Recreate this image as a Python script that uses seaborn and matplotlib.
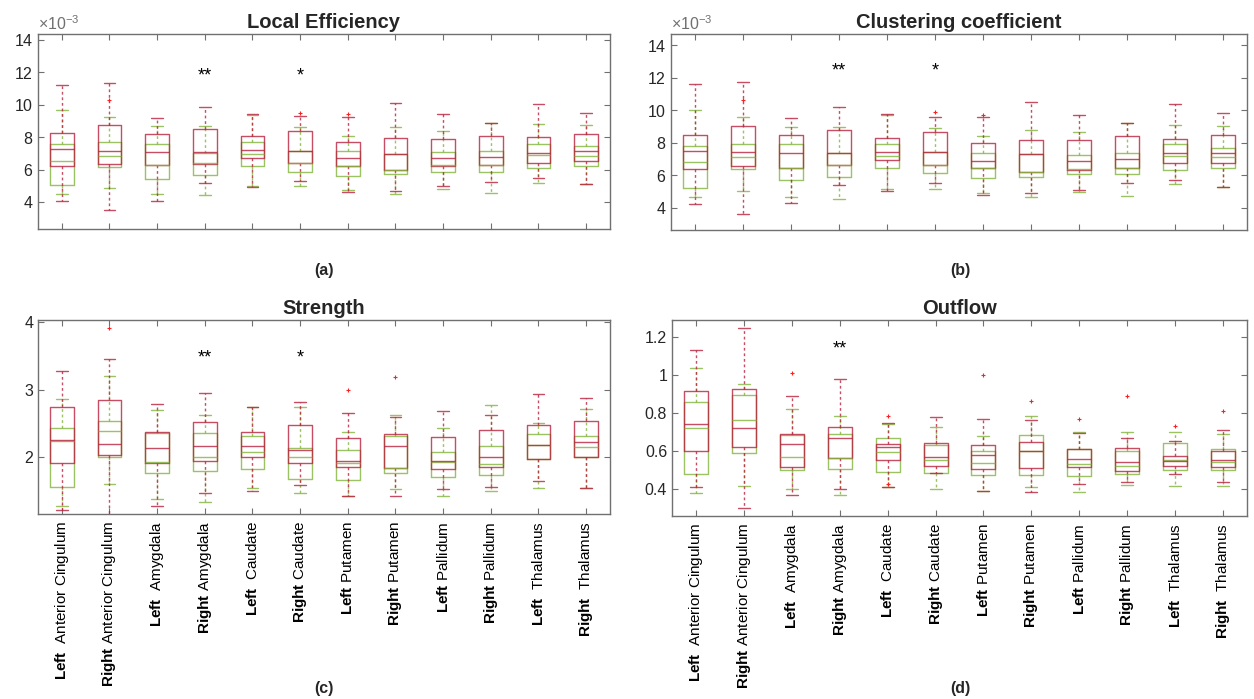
import pandas as pd
import matplotlib
matplotlib.use("Agg")
import matplotlib.pyplot as plt
import seaborn as sns
from matplotlib.ticker import ScalarFormatter, FuncFormatter


REGIONS = [
    "Left Anterior Cingulum", "Right Anterior Cingulum",
    "Left Amygdala", "Right Amygdala",
    "Left Caudate", "Right Caudate",
    "Left Putamen", "Right Putamen",
    "Left Pallidum", "Right Pallidum",
    "Left Thalamus", "Right Thalamus",
]

TICK_LABELS = [
    r"$\mathbf{Left}$  Anterior Cingulum", r"$\mathbf{Right}$ Anterior Cingulum",
    r"$\mathbf{Left}$  Amygdala", r"$\mathbf{Right}$ Amygdala",
    r"$\mathbf{Left}$  Caudate", r"$\mathbf{Right}$ Caudate",
    r"$\mathbf{Left}$ Putamen", r"$\mathbf{Right}$ Putamen",
    r"$\mathbf{Left}$ Pallidum", r"$\mathbf{Right}$ Pallidum",
    r"$\mathbf{Left}$  Thalamus", r"$\mathbf{Right}$  Thalamus",
]

# five-number summaries per region: [lower whisker, q1, median, q3, upper whisker]

# (a) local efficiency, x 1e-3
LE_RED = [
    [4.08, 6.20, 7.28, 8.25, 11.20], [3.50, 6.34, 7.12, 8.74, 11.35],
    [4.08, 6.26, 7.08, 8.20, 9.20], [5.17, 6.36, 7.06, 8.50, 9.85],
    [4.90, 6.70, 7.20, 8.05, 9.40], [5.27, 6.40, 7.12, 8.40, 9.30],
    [4.60, 6.20, 6.70, 7.68, 9.25], [4.70, 5.95, 6.98, 7.92, 10.14],
    [4.97, 6.20, 6.73, 7.88, 9.40], [5.23, 6.26, 6.77, 8.10, 8.87],
    [5.48, 6.40, 7.02, 7.98, 10.04], [5.10, 6.50, 7.12, 8.19, 9.48],
]
LE_GREEN = [
    [4.50, 5.05, 6.55, 7.60, 9.70], [4.84, 6.14, 6.85, 7.68, 9.24],
    [4.49, 5.44, 6.30, 7.60, 8.66], [4.41, 5.68, 6.40, 7.05, 8.66],
    [5.00, 6.20, 6.95, 7.70, 9.35], [4.97, 5.88, 6.40, 7.15, 8.60],
    [4.76, 5.62, 6.20, 7.12, 8.10], [4.50, 5.72, 6.00, 6.98, 8.60],
    [4.82, 5.85, 6.30, 7.06, 8.40], [4.55, 5.85, 6.30, 7.12, 8.87],
    [5.17, 6.07, 6.90, 7.60, 8.83], [5.10, 6.20, 6.85, 7.47, 8.76],
]
LE_OUT_REGION = ["Right Anterior Cingulum", "Right Caudate", "Left Putamen"]
LE_OUT_VALUE = [10.3, 9.5, 9.4]

# (b) clustering coefficient, x 1e-3
CC_RED = [
    [4.20, 6.39, 7.50, 8.49, 11.60], [3.60, 6.55, 7.40, 9.02, 11.75],
    [4.27, 6.45, 7.34, 8.50, 9.49], [5.39, 6.62, 7.34, 8.77, 10.20],
    [5.05, 6.93, 7.44, 8.26, 9.76], [5.50, 6.62, 7.40, 8.67, 9.55],
    [4.78, 6.42, 6.89, 7.95, 9.55], [4.88, 6.20, 7.28, 8.16, 10.50],
    [5.09, 6.32, 6.89, 8.16, 9.70], [5.50, 6.42, 6.99, 8.40, 9.18],
    [5.70, 6.73, 7.34, 8.20, 10.35], [5.25, 6.73, 7.38, 8.47, 9.80],
]
CC_GREEN = [
    [4.65, 5.20, 6.80, 7.82, 10.00], [5.05, 6.35, 7.10, 7.91, 9.55],
    [4.68, 5.70, 6.45, 7.91, 8.94], [4.53, 5.90, 6.60, 7.35, 8.98],
    [5.15, 6.42, 7.18, 7.90, 9.70], [5.15, 6.15, 6.62, 7.40, 8.92],
    [4.92, 5.80, 6.42, 7.38, 8.40], [4.64, 5.90, 6.20, 7.28, 8.80],
    [4.95, 6.10, 6.40, 7.24, 8.67], [4.74, 6.10, 6.42, 7.38, 9.18],
    [5.45, 6.32, 7.20, 7.90, 9.08], [5.25, 6.46, 7.10, 7.69, 9.04],
]
CC_OUT_REGION = ["Right Anterior Cingulum", "Right Caudate", "Left Putamen"]
CC_OUT_VALUE = [10.65, 9.9, 9.7]

# (c) strength
ST_RED = [
    [1.22, 1.91, 2.26, 2.75, 3.28], [1.10, 2.03, 2.19, 2.85, 3.45],
    [1.28, 1.92, 2.14, 2.38, 2.78], [1.47, 1.95, 2.17, 2.52, 2.95],
    [1.50, 2.00, 2.16, 2.38, 2.74], [1.59, 1.91, 2.11, 2.48, 2.81],
    [1.43, 1.85, 1.95, 2.28, 2.65], [1.43, 1.84, 2.16, 2.34, 2.59],
    [1.53, 1.82, 1.95, 2.30, 2.68], [1.56, 1.85, 2.01, 2.40, 2.62],
    [1.65, 1.97, 2.18, 2.48, 2.94], [1.55, 2.00, 2.22, 2.54, 2.87],
]
ST_GREEN = [
    [1.28, 1.56, 2.24, 2.43, 2.86], [1.61, 2.00, 2.39, 2.53, 3.20],
    [1.38, 1.77, 1.93, 2.36, 2.70], [1.34, 1.80, 2.00, 2.36, 2.63],
    [1.54, 1.82, 2.08, 2.32, 2.74], [1.47, 1.68, 2.00, 2.14, 2.75],
    [1.43, 1.66, 1.91, 2.10, 2.38], [1.53, 1.76, 1.84, 2.31, 2.63],
    [1.42, 1.70, 1.93, 2.07, 2.43], [1.50, 1.74, 1.90, 2.17, 2.77],
    [1.55, 1.97, 2.18, 2.35, 2.50], [1.55, 2.00, 2.15, 2.32, 2.72],
]
ST_OUT_REGION = ["Right Anterior Cingulum", "Left Putamen", "Right Putamen"]
ST_OUT_VALUE = [3.91, 3.0, 3.18]

# (d) outflow
OF_RED = [
    [0.410, 0.603, 0.742, 0.918, 1.133], [0.300, 0.621, 0.725, 0.928, 1.247],
    [0.370, 0.520, 0.637, 0.690, 0.890], [0.400, 0.563, 0.670, 0.730, 0.979],
    [0.414, 0.554, 0.620, 0.640, 0.747], [0.488, 0.523, 0.572, 0.642, 0.779],
    [0.393, 0.505, 0.580, 0.633, 0.770], [0.388, 0.514, 0.604, 0.651, 0.765],
    [0.430, 0.516, 0.558, 0.612, 0.695], [0.437, 0.498, 0.545, 0.616, 0.668],
    [0.480, 0.524, 0.549, 0.577, 0.656], [0.440, 0.520, 0.555, 0.600, 0.710],
]
OF_GREEN = [
    [0.380, 0.480, 0.725, 0.858, 1.040], [0.420, 0.593, 0.765, 0.896, 0.955],
    [0.400, 0.502, 0.572, 0.685, 0.823], [0.370, 0.508, 0.565, 0.690, 0.788],
    [0.410, 0.493, 0.595, 0.672, 0.744], [0.400, 0.484, 0.555, 0.635, 0.730],
    [0.393, 0.475, 0.540, 0.600, 0.680], [0.414, 0.475, 0.600, 0.686, 0.788],
    [0.387, 0.472, 0.535, 0.612, 0.700], [0.423, 0.480, 0.525, 0.600, 0.700],
    [0.417, 0.501, 0.555, 0.645, 0.700], [0.420, 0.500, 0.545, 0.610, 0.690],
]
OF_OUT_REGION = ["Left Amygdala", "Left Caudate", "Left Caudate", "Left Putamen",
                 "Right Putamen", "Left Pallidum", "Right Pallidum",
                 "Left Thalamus", "Right Thalamus"]
OF_OUT_VALUE = [1.01, 0.788, 0.43, 1.0, 0.865, 0.768, 0.893, 0.733, 0.81]

RED = "#b8203c"
GREEN = "#82b43c"
OUT_RED = "#ff2020"
AXIS_GRAY = "#707070"
TEXT_GRAY = "#262626"


def box_frame(red, green, scale):
    rows = []
    for grp, stats in (("Group B", green), ("Group A", red)):
        for region, five in zip(REGIONS, stats):
            for v in five:
                rows.append({"region": region, "group": grp, "value": v * scale})
    return pd.DataFrame(rows)


def draw_panel(ax, red, green, out_region, out_value, scale, title,
               ylim, yticks, stars, star_y, bottom_row):

    df = box_frame(red, green, scale)

    sns.boxplot(
        data=df, x="region", y="value", hue="group",
        order=REGIONS, hue_order=["Group B", "Group A"],
        palette={"Group A": RED, "Group B": GREEN},
        dodge=False, fill=False, width=0.5, whis=(0, 100),
        linewidth=1.0,
        whiskerprops=dict(linestyle=(0, (2, 2))),
        legend=False, ax=ax
    )

    for ln in ax.lines:
        ln.set_alpha(0.8)

    out_df = pd.DataFrame({
        "region": out_region,
        "value": [v * scale for v in out_value],
    })

    sns.stripplot(
        data=out_df, x="region", y="value", order=REGIONS,
        jitter=False, color=OUT_RED, marker="+", size=3.5,
        linewidth=0.8, legend=False, ax=ax
    )

    for region, mark in stars:
        ax.text(REGIONS.index(region), star_y * scale, mark,
                ha="center", va="center", fontsize=13, color="black")

    ax.set_xlim(-0.5, len(REGIONS) - 0.5)
    ax.set_ylim(ylim[0] * scale, ylim[1] * scale)
    ax.set_yticks([t * scale for t in yticks])
    ax.set_xlabel("")
    ax.set_ylabel("")
    ax.set_title(title, fontsize=14.5, fontweight="bold", pad=4)

    ax.tick_params(direction="in", top=True, right=True, length=4,
                   width=0.8, color=AXIS_GRAY, labelcolor=TEXT_GRAY,
                   labelsize=11.5)
    for sp in ax.spines.values():
        sp.set_visible(True)
        sp.set_color(AXIS_GRAY)
        sp.set_linewidth(1.0)

    ax.set_xticks(range(len(REGIONS)))
    if bottom_row:
        ax.set_xticklabels(TICK_LABELS, rotation=90, ha="center", va="top",
                           fontsize=11, color="black")
        ax.tick_params(axis="x", pad=5)
    else:
        ax.set_xticklabels([])

    if scale != 1:
        fmt = ScalarFormatter(useMathText=True)
        fmt.set_powerlimits((-3, -3))
        ax.yaxis.set_major_formatter(fmt)
        ax.yaxis.get_offset_text().set_fontsize(11.5)
        ax.yaxis.get_offset_text().set_color("#707070")
    else:
        ax.yaxis.set_major_formatter(FuncFormatter(lambda v, p: f"{v:g}"))


sns.set_style("ticks")
plt.rcParams["font.family"] = ["Liberation Sans", "DejaVu Sans"]
plt.rcParams["mathtext.fontset"] = "custom"
plt.rcParams["mathtext.rm"] = "Liberation Sans"
plt.rcParams["mathtext.bf"] = "Liberation Sans:bold"

W, H = 1254, 699
fig = plt.figure(figsize=(W / 100, H / 100), dpi=100)


def rect(x0, y0, x1, y1):
    return [x0 / W, 1 - y1 / H, (x1 - x0) / W, (y1 - y0) / H]


ax_a = fig.add_axes(rect(38, 34, 610, 229))
ax_b = fig.add_axes(rect(671, 34, 1247, 230))
ax_c = fig.add_axes(rect(38, 320, 610, 514))
ax_d = fig.add_axes(rect(672, 320, 1247, 516))

stars_two = [("Right Amygdala", "**"), ("Right Caudate", "*")]

draw_panel(ax_a, LE_RED, LE_GREEN, LE_OUT_REGION, LE_OUT_VALUE, 1e-3,
           "Local Efficiency", (2.33, 14.37), [4, 6, 8, 10, 12, 14],
           stars_two, 11.75, False)
draw_panel(ax_b, CC_RED, CC_GREEN, CC_OUT_REGION, CC_OUT_VALUE, 1e-3,
           "Clustering coefficient", (2.63, 14.68), [4, 6, 8, 10, 12, 14],
           stars_two, 12.4, False)
draw_panel(ax_c, ST_RED, ST_GREEN, ST_OUT_REGION, ST_OUT_VALUE, 1,
           "Strength", (1.16, 4.03), [2, 3, 4],
           stars_two, 3.47, True)
draw_panel(ax_d, OF_RED, OF_GREEN, OF_OUT_REGION, OF_OUT_VALUE, 1,
           "Outflow", (0.26, 1.29), [0.4, 0.6, 0.8, 1.0, 1.2],
           [("Right Amygdala", "**")], 1.137, True)

for label, x, y in (("(a)", 324, 270), ("(b)", 960, 270),
                    ("(c)", 324, 688), ("(d)", 960, 688)):
    fig.text(x / W, 1 - y / H, label, ha="center", va="center",
             fontsize=11.5, fontweight="bold")

fig.savefig("out.png", dpi=100)
